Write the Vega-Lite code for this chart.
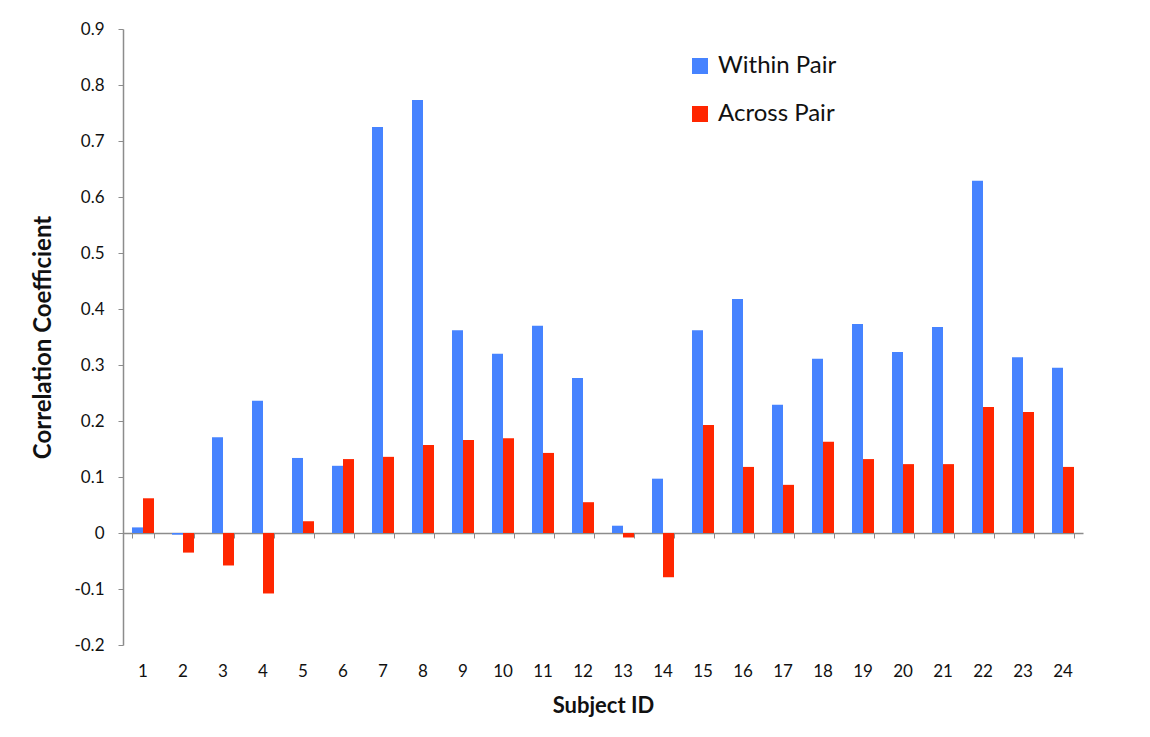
{
  "$schema": "https://vega.github.io/schema/vega-lite/v6.json",
  "width": 960,
  "height": 616,
  "autosize": {"type": "none"},
  "padding": {"left": 123, "top": 29, "right": 67, "bottom": 92},
  "background": "white",
  "config": {
    "view": {"stroke": null},
    "font": "Lato",
    "axis": {"grid": false, "domainColor": "#8c8c8c", "tickColor": "#8c8c8c", "labelColor": "#111", "titleColor": "#111", "labelFont": "Lato", "titleFont": "Lato"}
  },
  "data": {
    "values": [
      {"id": 1, "series": "Within Pair", "value": 0.010},
      {"id": 1, "series": "Across Pair", "value": 0.062},
      {"id": 2, "series": "Within Pair", "value": -0.003},
      {"id": 2, "series": "Across Pair", "value": -0.035},
      {"id": 3, "series": "Within Pair", "value": 0.171},
      {"id": 3, "series": "Across Pair", "value": -0.058},
      {"id": 4, "series": "Within Pair", "value": 0.236},
      {"id": 4, "series": "Across Pair", "value": -0.108},
      {"id": 5, "series": "Within Pair", "value": 0.134},
      {"id": 5, "series": "Across Pair", "value": 0.021},
      {"id": 6, "series": "Within Pair", "value": 0.120},
      {"id": 6, "series": "Across Pair", "value": 0.132},
      {"id": 7, "series": "Within Pair", "value": 0.725},
      {"id": 7, "series": "Across Pair", "value": 0.136},
      {"id": 8, "series": "Within Pair", "value": 0.773},
      {"id": 8, "series": "Across Pair", "value": 0.157},
      {"id": 9, "series": "Within Pair", "value": 0.362},
      {"id": 9, "series": "Across Pair", "value": 0.166},
      {"id": 10, "series": "Within Pair", "value": 0.320},
      {"id": 10, "series": "Across Pair", "value": 0.169},
      {"id": 11, "series": "Within Pair", "value": 0.370},
      {"id": 11, "series": "Across Pair", "value": 0.143},
      {"id": 12, "series": "Within Pair", "value": 0.277},
      {"id": 12, "series": "Across Pair", "value": 0.055},
      {"id": 13, "series": "Within Pair", "value": 0.013},
      {"id": 13, "series": "Across Pair", "value": -0.008},
      {"id": 14, "series": "Within Pair", "value": 0.097},
      {"id": 14, "series": "Across Pair", "value": -0.079},
      {"id": 15, "series": "Within Pair", "value": 0.362},
      {"id": 15, "series": "Across Pair", "value": 0.193},
      {"id": 16, "series": "Within Pair", "value": 0.418},
      {"id": 16, "series": "Across Pair", "value": 0.118},
      {"id": 17, "series": "Within Pair", "value": 0.229},
      {"id": 17, "series": "Across Pair", "value": 0.086},
      {"id": 18, "series": "Within Pair", "value": 0.311},
      {"id": 18, "series": "Across Pair", "value": 0.163},
      {"id": 19, "series": "Within Pair", "value": 0.373},
      {"id": 19, "series": "Across Pair", "value": 0.132},
      {"id": 20, "series": "Within Pair", "value": 0.323},
      {"id": 20, "series": "Across Pair", "value": 0.123},
      {"id": 21, "series": "Within Pair", "value": 0.368},
      {"id": 21, "series": "Across Pair", "value": 0.123},
      {"id": 22, "series": "Within Pair", "value": 0.629},
      {"id": 22, "series": "Across Pair", "value": 0.225},
      {"id": 23, "series": "Within Pair", "value": 0.314},
      {"id": 23, "series": "Across Pair", "value": 0.216},
      {"id": 24, "series": "Within Pair", "value": 0.295},
      {"id": 24, "series": "Across Pair", "value": 0.118}
    ]
  },
  "resolve": {"axis": {"x": "independent"}},
  "layer": [
    {
      "mark": {"type": "bar", "cornerRadius": 0},
      "encoding": {
        "x": {
          "field": "id", "type": "ordinal",
          "scale": {"paddingInner": 0.45, "paddingOuter": 0.225},
          "axis": {"orient": "bottom", "offset": -112, "labels": false, "title": null, "tickBand": "extent", "tickSize": 5, "domainWidth": 1.5}
        },
        "xOffset": {"field": "series", "type": "nominal", "sort": ["Within Pair", "Across Pair"], "scale": {"paddingInner": 0, "paddingOuter": 0}},
        "y": {
          "field": "value", "type": "quantitative",
          "scale": {"domain": [-0.2, 0.9], "nice": false, "zero": false},
          "axis": {"values": [-0.2, -0.1, 0, 0.1, 0.2, 0.3, 0.4, 0.5, 0.6, 0.7, 0.8, 0.9], "labelExpr": "datum.value < 0 ? '-' + format(-datum.value, '~g') : format(datum.value, '~g')", "labelFontSize": 17, "labelPadding": 14, "tickSize": 5, "title": "Correlation Coefficient", "titleFontSize": 24, "titleFontWeight": "bold", "titlePadding": 18, "domainWidth": 1.5}
        },
        "color": {
          "field": "series", "type": "nominal",
          "sort": ["Within Pair", "Across Pair"],
          "scale": {"domain": ["Within Pair", "Across Pair"], "range": ["#4683FF", "#FF2600"]},
          "legend": {"title": null, "orient": "none", "legendX": 565, "legendY": 25, "symbolType": "square", "symbolSize": 256, "symbolStrokeWidth": 0, "labelFontSize": 24, "labelFont": "Lato", "labelColor": "#111", "rowPadding": 24, "labelOffset": 6, "padding": 0}
        }
      }
    },
    {
      "mark": {"type": "bar", "opacity": 0},
      "encoding": {
        "x": {
          "field": "id", "type": "ordinal",
          "axis": {"orient": "bottom", "domain": false, "ticks": false, "labelAngle": 0, "labelFontSize": 17, "labelPadding": 18, "title": "Subject ID", "titleFontSize": 22, "titleFontWeight": "bold", "titlePadding": 16}
        },
        "y": {"field": "value", "type": "quantitative"}
      }
    }
  ]
}
